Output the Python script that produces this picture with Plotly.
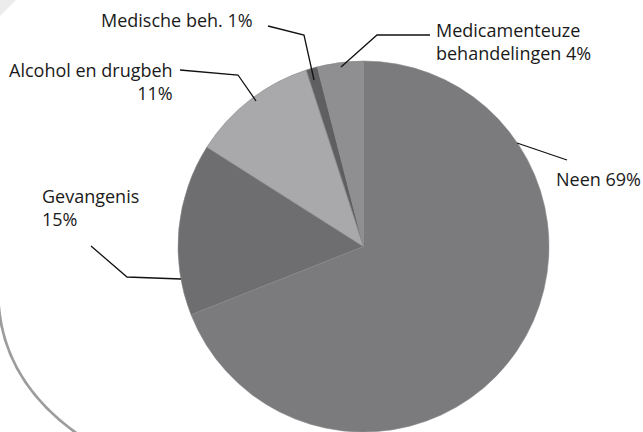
import plotly.graph_objects as go

# Slice data (clockwise from 12 o'clock)
labels = ["Neen", "Gevangenis", "Alcohol en drugbeh", "Medische beh.", "Medicamenteuze behandelingen"]
values = [69, 15, 11, 1, 4]
colors = ["#7b7b7d", "#6e6e70", "#a9a9ab", "#5f5f61", "#8f8f91"]

W, H = 643, 432
FONT = "Open Sans"


def px(x):
    return x / W


def py(y):
    return 1 - y / H


# Pie placement (pixels)
R = 185.5
CX = 363.5

fig = go.Figure(
    go.Pie(
        labels=labels,
        values=values,
        sort=False,
        direction="clockwise",
        rotation=0,
        textinfo="none",
        hoverinfo="label+percent",
        marker=dict(colors=colors, line=dict(color="#8a8a8c", width=0.6)),
        domain=dict(x=[px(CX - R), px(CX + R)], y=[0, 2 * R / H]),
        showlegend=False,
    )
)

# Label text for each slice
pct = {lab: f"{v}%" for lab, v in zip(labels, values)}
label_specs = [
    # text, x, y, xanchor, align
    (f"Medische beh. {pct['Medische beh.']}", 255, 20, "right", "right"),
    (f"Alcohol en drugbeh<br>{pct['Alcohol en drugbeh']}", 175, 81, "right", "right"),
    (f"Gevangenis<br>{pct['Gevangenis']}", 40, 208, "left", "left"),
    (f"Medicamenteuze<br>behandelingen {pct['Medicamenteuze behandelingen']}", 434, 42, "left", "left"),
    (f"Neen {pct['Neen']}", 554, 179, "left", "left"),
]
annotations = [
    dict(
        text=t, x=px(x), y=py(y), xref="paper", yref="paper",
        xanchor=xa, yanchor="middle", align=al, showarrow=False,
        font=dict(family=FONT, size=18, color="#1a1a1a"),
    )
    for t, x, y, xa, al in label_specs
]

# Leader lines (pixel polylines)
leaders = [
    [(268, 26), (304, 35), (314, 80)],
    [(180, 70), (238, 75), (256, 101)],
    [(91, 246), (127, 277), (181, 279)],
    [(430, 35), (377, 35), (341, 67)],
    [(517, 143), (567, 160)],
]


def to_path(pts):
    return "M " + " L ".join(f"{px(x):.5f},{py(y):.5f}" for x, y in pts)


shapes = [
    dict(type="path", xref="paper", yref="paper", path=to_path(p),
         line=dict(color="#111111", width=1.3), layer="above")
    for p in leaders
]

# Decorative background arc and corner tint
shapes.append(dict(
    type="path", xref="paper", yref="paper",
    path=f"M {px(-2):.5f},{py(290):.5f} Q {px(-2):.5f},{py(380):.5f} {px(82):.5f},{py(437):.5f}",
    line=dict(color="#9c9c9c", width=2.8), layer="below",
))
shapes.append(dict(
    type="path", xref="paper", yref="paper",
    path=f"M {px(0)},{py(0)} L {px(16)},{py(0)} L {px(0)},{py(16)} Z",
    fillcolor="#ececec", line=dict(width=0), layer="below",
))

fig.update_layout(
    width=W, height=H,
    margin=dict(l=0, r=0, t=0, b=0),
    paper_bgcolor="white",
    plot_bgcolor="white",
    annotations=annotations,
    shapes=shapes,
)

fig.write_html("out.html")
